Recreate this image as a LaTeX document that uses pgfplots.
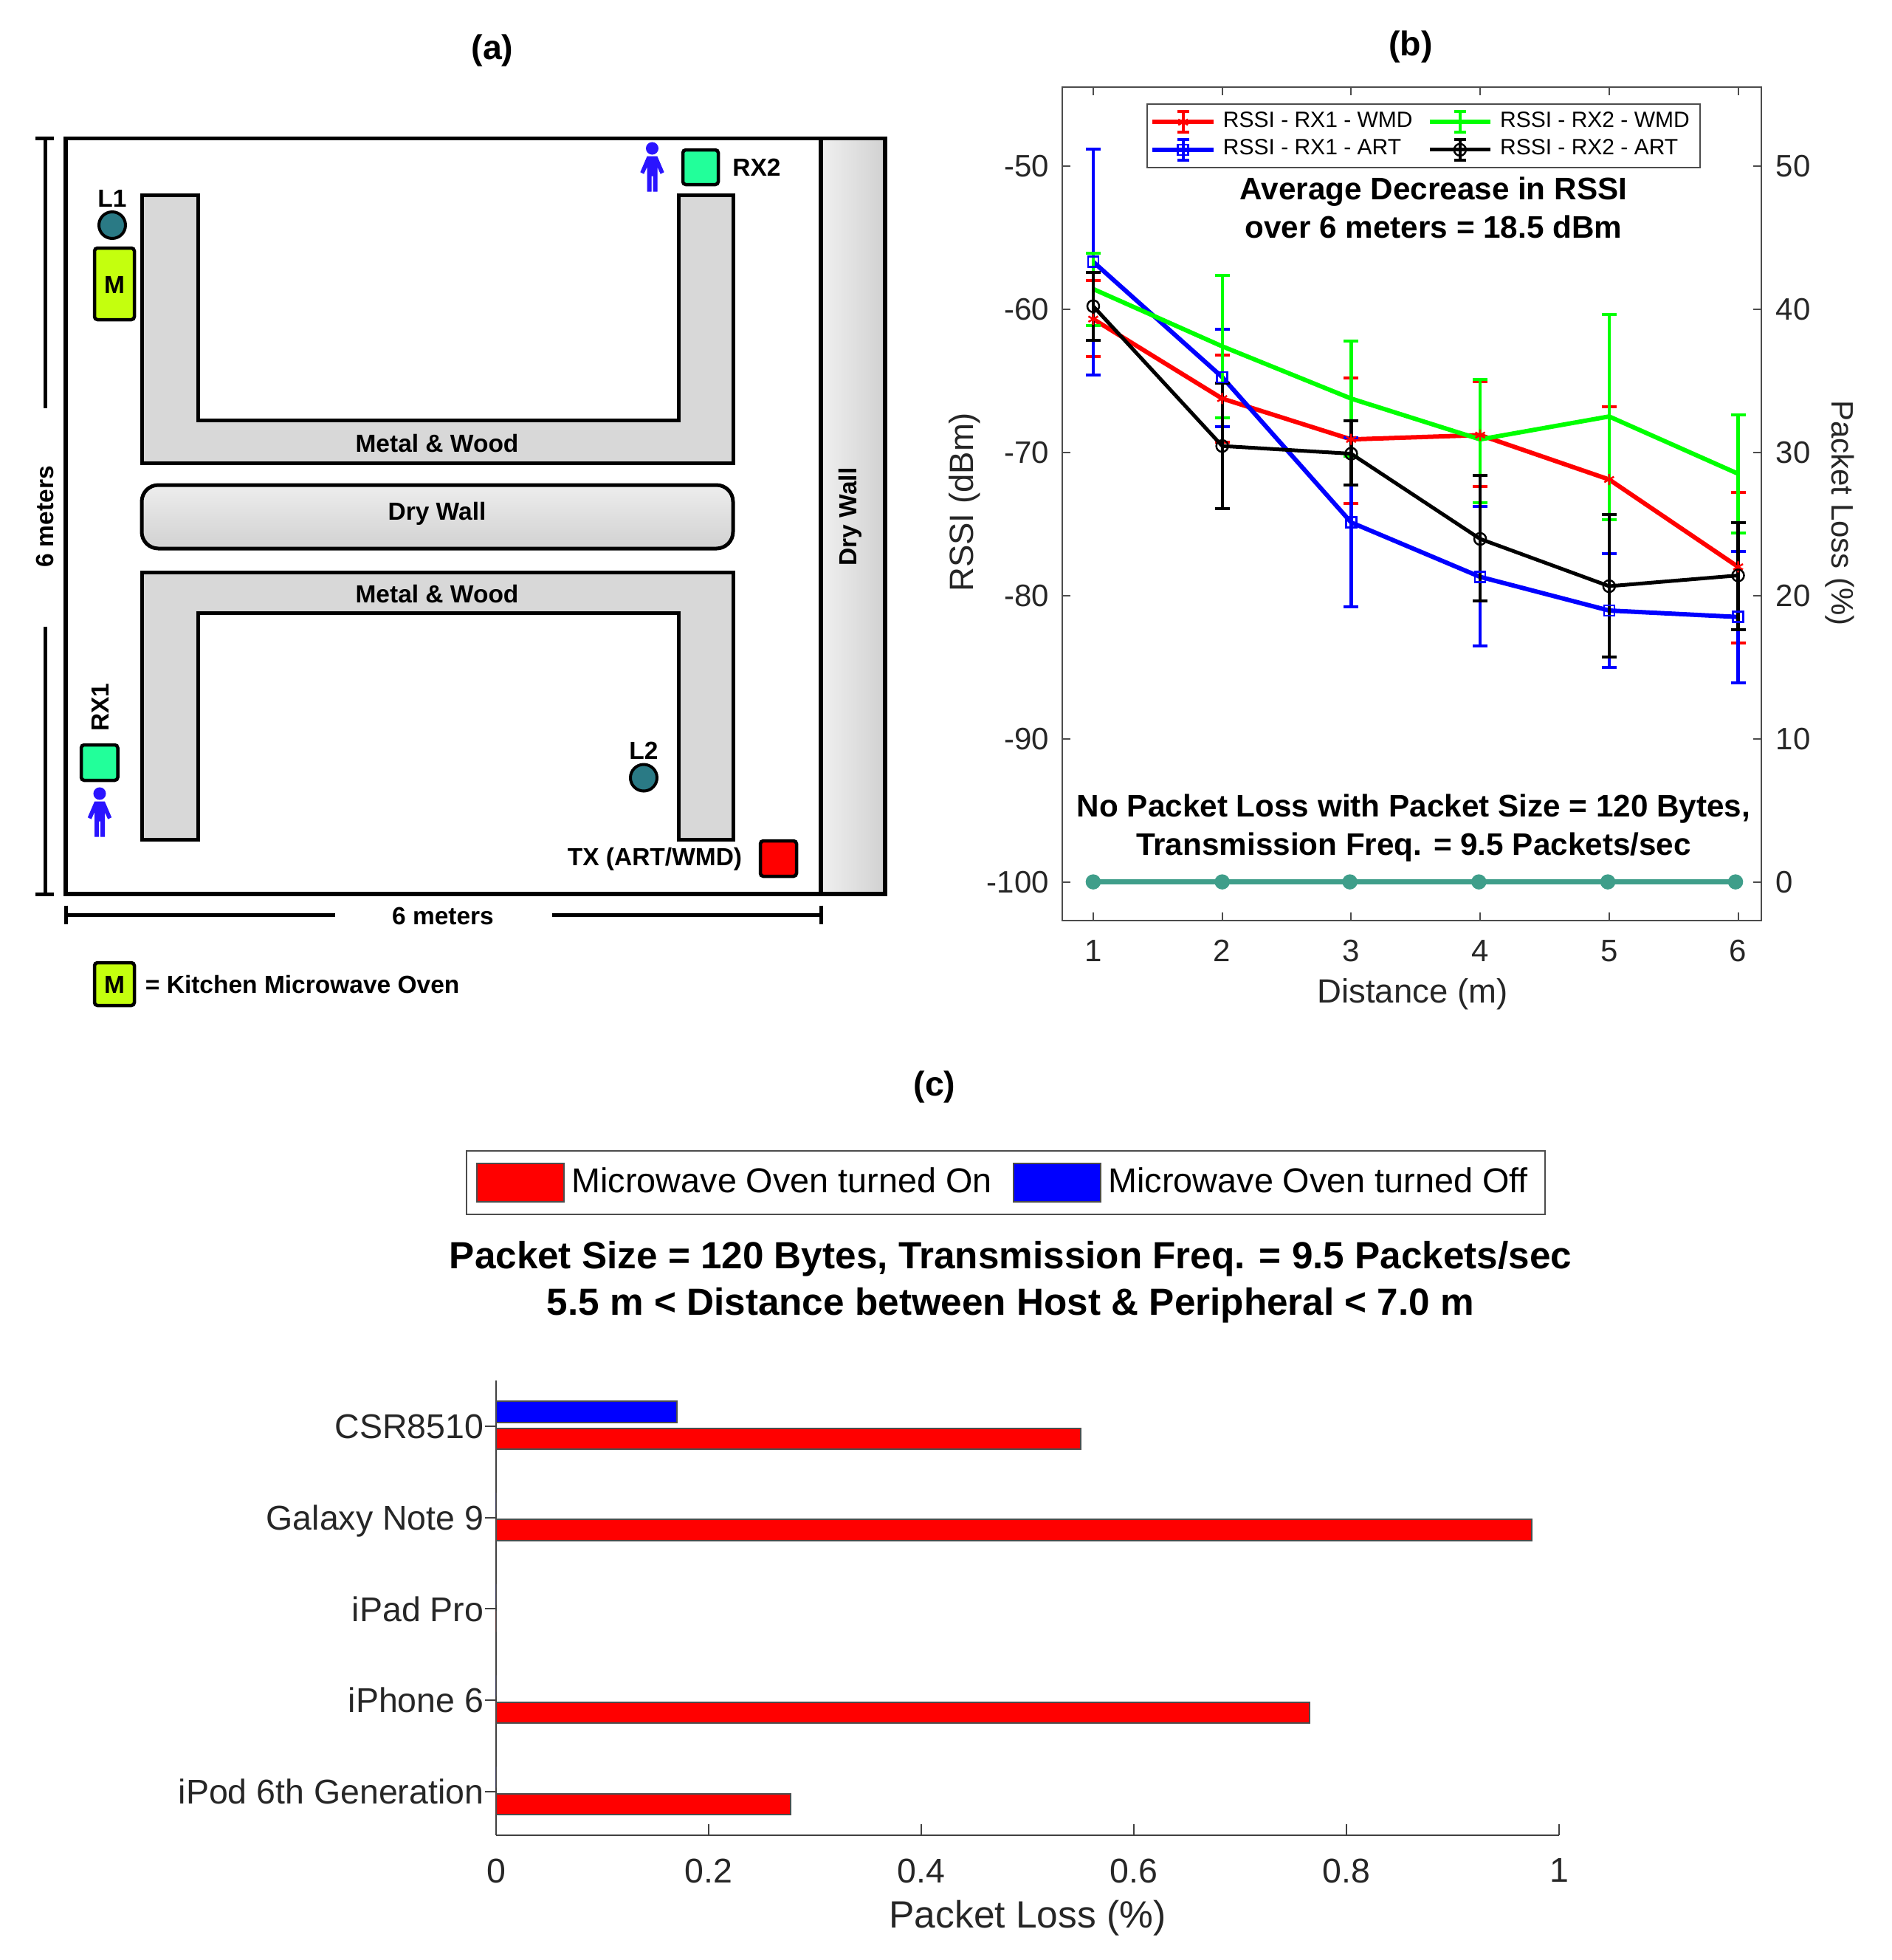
\documentclass[border=0pt]{standalone}
\usepackage{fontspec}
\setmainfont{Liberation Sans}
\usepackage{pgfplots}
\usepackage{pgfplotstable}
\pgfplotsset{compat=1.18}

\definecolor{axgray}{gray}{0.3}
\definecolor{tealmark}{HTML}{3F9E8A}
\definecolor{wallgray}{HTML}{D8D8D8}
\definecolor{loc}{HTML}{2A7A85}
\definecolor{rxgreen}{HTML}{22FF9A}
\definecolor{oven}{HTML}{C4FF0E}
\definecolor{person}{HTML}{2A14FF}

\newcommand{\schem}{\bfseries\fontsize{6.7}{8}\selectfont}
\newcommand{\note}{\bfseries\fontsize{8.45}{10.4}\selectfont}
\newcommand{\bignote}{\bfseries\fontsize{10.25}{12.6}\selectfont}
\newcommand{\panel}{\bfseries\fontsize{9.3}{12}\selectfont}

% RSSI, with distance from the mean to each error cap
\pgfplotstableread{
d  m      hi    lo
1  -60.7  2.7   2.6
2  -66.25 3.05  3.05
3  -69.1  4.3   4.46
4  -68.8  3.73  3.6
5  -71.9  5.1   5.2
6  -78.0  5.2   5.3
}\rxoneWMD
\pgfplotstableread{
d  m      hi    lo
1  -58.6  2.5   2.55
2  -62.6  4.95  5.0
3  -66.25 4.0   4.05
4  -69.1  4.2   4.4
5  -67.5  7.1   7.2
6  -71.5  4.1   4.16
}\rxtwoWMD
\pgfplotstableread{
d  m      hi    lo
1  -56.7  7.85  7.9
2  -64.75 3.35  3.45
3  -74.9  5.9   5.9
4  -78.7  4.9   4.8
5  -81.05 3.95  3.95
6  -81.5  4.6   4.6
}\rxoneART
\pgfplotstableread{
d  m      hi    lo
1  -59.8  2.35  2.4
2  -69.56 4.4   4.4
3  -70.1  2.3   2.2
4  -76.05 4.45  4.35
5  -79.35 5.0   4.95
6  -78.6  3.7   3.8
}\rxtwoART

\pgfplotsset{
  rssi/.style={color=#1, line width=1.2pt,
    mark options={solid, line width=0.5pt},
    legend image code/.code={
      \draw[#1, line width=0.8pt] (8.25pt,-2.8pt) -- (8.25pt,2.8pt)
        (6.65pt,-2.8pt) -- ++(3.2pt,0) (6.65pt,2.8pt) -- ++(3.2pt,0);
      \draw[##1, mark repeat=2, mark phase=2] plot coordinates {(0pt,0pt) (8.25pt,0pt) (16.5pt,0pt)};
    },
    error bars/.cd, y dir=both, y explicit,
    error mark=-,
    error bar style={line width=0.85pt, color=#1},
    error mark options={rotate=90, line width=0.8pt, mark size=2pt, color=#1},
    /pgfplots/.cd},
}

\begin{document}
\begin{tikzpicture}
\path[use as bounding box] (0,0) rectangle (512.6pt,531pt);

% (b) RSSI against distance
\begin{axis}[
  at={(287.8pt,281.6pt)}, anchor=south west, scale only axis,
  width=189.4pt, height=225.8pt,
  xmin=0.76, xmax=6.18, ymin=-102.7, ymax=-44.5,
  xtick={1,2,3,4,5,6}, ytick={-100,-90,-80,-70,-60,-50},
  yticklabels={-100,-90,-80,-70,-60,-50},
  ytick pos=left,
  /pgf/number format/assume math mode=true,
  tick align=inside, major tick length=2.2pt,
  tick style={color=axgray, line width=0.4pt},
  axis line style={color=axgray, line width=0.5pt},
  ticklabel style={font=\fontsize{8.4}{10}\selectfont, text=black!85},
  yticklabel style={xshift=-0.1pt},
  xticklabel style={yshift=-1.7pt},
  xlabel={Distance (m)}, ylabel={RSSI (dBm)},
  every axis x label/.style={at={(axis description cs:0.501,-0.0887)}, anchor=center, font=\fontsize{9.1}{11}\selectfont, text=black!85},
  every axis y label/.style={at={(axis description cs:-0.140,0.502)}, anchor=center, rotate=90, font=\fontsize{9.1}{11}\selectfont, text=black!85},
  legend columns=2, transpose legend,
  legend cell align=left,
  legend style={at={(axis description cs:0.517,0.9805)}, anchor=north,
    font=\fontsize{6}{7.2}\selectfont, draw=axgray, line width=0.4pt,
    inner xsep=0.9pt, inner ysep=1.65pt, row sep=1pt,
    nodes={inner ysep=0.4pt},
    /tikz/every even column/.style={column sep=2pt}},
]
\addplot[rssi=red, mark=asterisk, mark size=1.5pt] table[x=d, y=m, y error plus=hi, y error minus=lo] {\rxoneWMD};
\addlegendentry{RSSI - RX1 - WMD}
\addplot[rssi=blue, mark=square, mark size=1.4pt] table[x=d, y=m, y error plus=hi, y error minus=lo] {\rxoneART};
\addlegendentry{RSSI - RX1 - ART}
\addplot[rssi=green, mark=none] table[x=d, y=m, y error plus=hi, y error minus=lo] {\rxtwoWMD};
\addlegendentry{RSSI - RX2 - WMD}
\addplot[rssi=black, line width=1pt, mark=o, mark size=1.6pt] table[x=d, y=m, y error plus=hi, y error minus=lo] {\rxtwoART};
\addlegendentry{RSSI - RX2 - ART}
\end{axis}

% (b) packet loss, right axis
\begin{axis}[
  at={(287.8pt,281.6pt)}, anchor=south west, scale only axis,
  width=189.4pt, height=225.8pt,
  xmin=0.76, xmax=6.18, ymin=-2.7, ymax=55.5,
  axis x line=none, axis y line*=right,
  ytick={0,10,20,30,40,50}, ytick pos=right,
  /pgf/number format/assume math mode=true,
  tick align=inside, major tick length=2.2pt,
  tick style={color=axgray, line width=0.4pt},
  axis line style={color=axgray, line width=0.5pt},
  ticklabel style={font=\fontsize{8.4}{10}\selectfont, text=black!85},
  yticklabel style={xshift=0.4pt},
  ylabel={Packet Loss (\%)},
  every axis y label/.style={at={(axis description cs:1.1125,0.489)}, anchor=center, rotate=-90, font=\fontsize{8.4}{11}\selectfont, text=black!85},
]
\addplot[color=tealmark, line width=1.4pt, mark=*, mark size=1.9pt, mark options={line width=0.3pt}] coordinates {
  (1,0) (2,0) (2.99,0) (3.99,0) (4.99,0) (5.98,0)
};
\end{axis}

% (c) packet loss per device
\begin{axis}[
  at={(134.4pt,33.8pt)}, anchor=south west, scale only axis,
  width=288pt, height=123.2pt,
  xmin=0, xmax=1, ymin=0.523, ymax=5.5,
  axis lines=left, axis line style={-, color=black!75, line width=0.5pt},
  xtick={0,0.2,0.4,0.6,0.8,1},
  xticklabels={0,0.2,0.4,0.6,0.8,1},
  ytick={1,2,3,4,5},
  yticklabels={iPod 6th Generation,iPhone 6,iPad Pro,Galaxy Note 9,CSR8510},
  tick align=inside, major tick length=3pt,
  tick style={color=black!75, line width=0.4pt},
  ticklabel style={font=\fontsize{9.3}{11}\selectfont, text=black!85},
  yticklabel style={xshift=3.2pt, text height=6.7pt, text depth=0pt},
  xticklabel style={yshift=-2.8pt},
  xlabel={Packet Loss (\%)},
  every axis x label/.style={at={(axis description cs:0.5,-0.182)}, anchor=center, font=\fontsize{10.3}{12}\selectfont, text=black!85},
  xbar, bar width=5.7pt,
  legend columns=2, legend cell align=left,
  legend style={at={(axis description cs:0.4795,1.435)}, anchor=center,
    font=\fontsize{9.35}{11}\selectfont, draw=black!70, line width=0.4pt,
    inner xsep=2.7pt, inner ysep=2.5pt,
    /tikz/every even column/.style={column sep=3.7pt}},
  legend image code/.code={
    \draw[#1, line width=0.3pt] (0pt,-5.2pt) rectangle (23.6pt,5.2pt);
  },
]
\addplot[fill=red, draw=black!70, line width=0.4pt, bar shift=-3.4pt] coordinates {
  (0.277,1) (0.765,2) (0,3) (0.974,4) (0.55,5)
};
\addlegendentry{Microwave Oven turned On}
\addplot[fill=blue, draw=black!70, line width=0.4pt, bar shift=3.9pt] coordinates {
  (0,1) (0,2) (0,3) (0,4) (0.17,5)
};
\addlegendentry{Microwave Oven turned Off}
\end{axis}

% floor plan and free text, in reference pixels
\begin{axis}[
  at={(0pt,0pt)}, anchor=south west, scale only axis,
  width=512.6pt, height=531pt,
  xmin=0, xmax=2563, ymin=0, ymax=2655, y dir=reverse,
  hide axis, clip=false,
]
% outer room and side wall
\addplot[draw=black, line width=1.1pt, left color=black!6, right color=black!18] coordinates {(1112,187.5) (1199,187.5) (1199,1211) (1112,1211)} --cycle;
\addplot[draw=black, line width=1.1pt] coordinates {(89,187.5) (1199,187.5) (1199,1211) (89,1211)} --cycle;
% cupboards
\addplot[fill=wallgray, draw=black, line width=1pt] coordinates {(192,264) (268,264) (268,569.5) (919,569.5) (919,264) (993,264) (993,627) (192,627)} --cycle;
\addplot[fill=wallgray, draw=black, line width=1pt] coordinates {(192,775) (993,775) (993,1137) (919,1137) (919,830) (268,830) (268,1137) (192,1137)} --cycle;
\addplot[draw=black, line width=1pt, rounded corners=4.5pt, top color=black!7, bottom color=black!18] coordinates {(192,657) (993,657) (993,743) (192,743)} --cycle;
% boxes
\addplot[fill=oven, draw=black, line width=0.9pt, rounded corners=0.8pt] coordinates {(128,336) (182,336) (182,433) (128,433)} --cycle;
\addplot[fill=oven, draw=black, line width=0.9pt, rounded corners=0.8pt] coordinates {(128,1304) (182,1304) (182,1362) (128,1362)} --cycle;
\addplot[fill=rxgreen, draw=black, line width=0.9pt, rounded corners=0.8pt] coordinates {(925,203) (973,203) (973,250) (925,250)} --cycle;
\addplot[fill=rxgreen, draw=black, line width=0.9pt, rounded corners=0.8pt] coordinates {(110,1009) (159.5,1009) (159.5,1057) (110,1057)} --cycle;
\addplot[fill=red, draw=black, line width=0.9pt, rounded corners=0.8pt] coordinates {(1030,1139) (1079,1139) (1079,1187) (1030,1187)} --cycle;
% locations
\addplot[only marks, mark=*, mark size=3.6pt, mark options={fill=loc, draw=black, line width=0.8pt}] coordinates {(152,305) (872,1053.5)};
% people
\addplot[only marks, mark=*, mark size=1.5pt, mark options={fill=person, draw=person}] coordinates {(883.5,201) (135,1075)};
\addplot[fill=person, draw=person, line width=0.2pt] coordinates {(877,212) (890,212) (899,233) (895,235) (890,224) (890,259) (885,259) (885,238) (882,238) (882,259) (877,259) (877,224) (872,235) (868,233)} --cycle;
\addplot[fill=person, draw=person, line width=0.2pt] coordinates {(128.5,1086) (141.5,1086) (150.5,1107) (146.5,1109) (141.5,1098) (141.5,1133) (136.5,1133) (136.5,1112) (133.5,1112) (133.5,1133) (128.5,1133) (128.5,1098) (123.5,1109) (119.5,1107)} --cycle;
% dimension lines
\addplot[black, line width=1pt] coordinates {(61,187.5) (61,553)};
\addplot[black, line width=1pt] coordinates {(61,848.5) (61,1211)};
\addplot[black, line width=1pt] coordinates {(48,187.5) (73,187.5)};
\addplot[black, line width=1pt] coordinates {(48,1211) (73,1211)};
\addplot[black, line width=1pt] coordinates {(89,1239) (454,1239)};
\addplot[black, line width=1pt] coordinates {(748,1239) (1112,1239)};
\addplot[black, line width=1pt] coordinates {(89,1226.5) (89,1252)};
\addplot[black, line width=1pt] coordinates {(1112,1226.5) (1112,1252)};

\node[font=\schem] at (axis cs:592,600.5) {Metal \& Wood};
\node[font=\schem] at (axis cs:592,805) {Metal \& Wood};
\node[font=\schem] at (axis cs:592,696) {Dry Wall};
\node[font=\schem, rotate=90] at (axis cs:1152,700) {Dry Wall};
\node[font=\schem] at (axis cs:152,269) {L1};
\node[font=\schem] at (axis cs:872,1017) {L2};
\node[font=\schem] at (axis cs:155,386) {M};
\node[font=\schem] at (axis cs:155,1334) {M};
\node[font=\schem] at (axis cs:1025,227) {RX2};
\node[font=\schem, rotate=90] at (axis cs:135.5,958) {RX1};
\node[font=\schem] at (axis cs:887,1163.5) {TX (ART/WMD)};
\node[font=\schem, rotate=90] at (axis cs:61,700) {6 meters};
\node[font=\schem] at (axis cs:600,1241) {6 meters};
\node[font=\schem, anchor=west, inner sep=0pt] at (axis cs:196,1334) {= Kitchen Microwave Oven};

\node[font=\panel] at (axis cs:667,68) {(a)};
\node[font=\panel] at (axis cs:1911,63) {(b)};
\node[font=\panel] at (axis cs:1266,1472) {(c)};

\node[font=\note, align=center] at (axis cs:1942,281) {Average Decrease in RSSI\\over 6 meters = 18.5 dBm};
\node[font=\note, align=center] at (axis cs:1915,1122) {No Packet Loss with Packet Size = 120 Bytes,\\Transmission Freq. = 9.5 Packets/sec};
\node[font=\bignote, align=center] at (axis cs:1369,1737) {Packet Size = 120 Bytes, Transmission Freq. = 9.5 Packets/sec\\5.5 m < Distance between Host \& Peripheral < 7.0 m};
\end{axis}
\end{tikzpicture}
\end{document}
